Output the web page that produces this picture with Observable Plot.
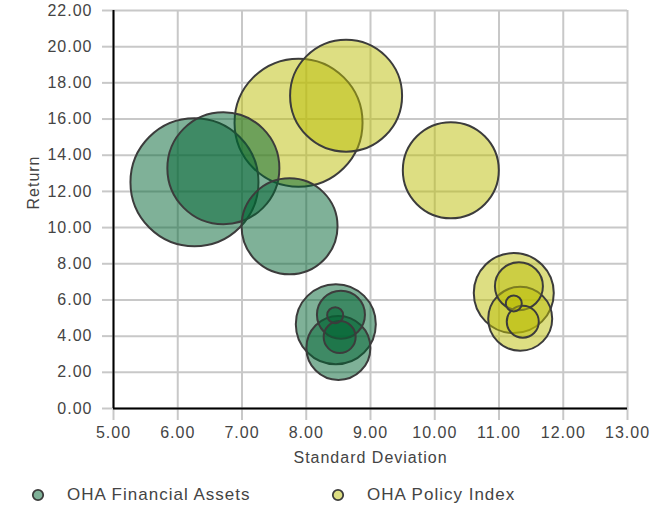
<!DOCTYPE html>
<html>
<head>
<meta charset="utf-8">
<script src="https://cdn.jsdelivr.net/npm/d3@7"></script>
<script src="https://cdn.jsdelivr.net/npm/@observablehq/plot@0.6"></script>
<style>
  html, body { margin: 0; padding: 0; background: #fff; }
  body { width: 672px; height: 507px; position: relative; overflow: hidden; font-family: "Liberation Sans", Arial, sans-serif; }
  #chart svg text { letter-spacing: 1px; }
  .legend { position: absolute; left: 0; top: 475px; width: 672px; height: 32px; color: #444; font-size: 17px; letter-spacing: 1px; }
  .legend .item { position: absolute; top: 0; height: 32px; }
  .legend svg { position: absolute; top: 13px; }
  .legend span { position: absolute; top: 10px; white-space: nowrap; }
</style>
</head>
<body>
<div id="chart"></div>
<div class="legend" id="legend"></div>
<script>
const seriesNames = ["OHA Financial Assets", "OHA Policy Index"];
const seriesColors = ["#006432", "#bbbe05"];

const finStdDev = [6.26, 6.71, 7.74, 8.46, 8.50, 8.54, 8.52, 8.45];
const finReturn = [12.51, 13.28, 10.07, 4.66, 3.35, 5.18, 3.95, 5.16];
const finSize   = [8, 7, 6, 5, 4, 3, 2, 1];

const polStdDev = [7.88, 8.62, 10.25, 11.23, 11.33, 11.31, 11.37, 11.23];
const polReturn = [15.80, 17.29, 13.17, 6.38, 4.96, 6.76, 4.80, 5.81];
const polSize   = [8, 7, 6, 5, 4, 3, 2, 1];

const xTicks = [5, 6, 7, 8, 9, 10, 11, 12, 13];
const yTicks = [0, 2, 4, 6, 8, 10, 12, 14, 16, 18, 20, 22];

const fin = finStdDev.map((x, i) => ({series: seriesNames[0], x, y: finReturn[i], s: finSize[i]}));
const pol = polStdDev.map((x, i) => ({series: seriesNames[1], x, y: polReturn[i], s: polSize[i]}));

const grid = "#c8c8c8";
const fmt = d => d.toFixed(2);

const chart = Plot.plot({
  width: 672,
  height: 475,
  marginLeft: 113,
  marginRight: 45,
  marginTop: 10,
  marginBottom: 67,
  style: {fontSize: "16px", fontFamily: "'Liberation Sans', Arial, sans-serif", color: "#444", background: "#fff"},
  x: {domain: [5, 13]},
  y: {domain: [0, 22]},
  r: {type: "linear", domain: [0, 8], range: [0, 64]},
  marks: [
    Plot.gridX(xTicks, {stroke: grid, strokeOpacity: 1, strokeWidth: 2}),
    Plot.gridY(yTicks, {stroke: grid, strokeOpacity: 1, strokeWidth: 2}),
    Plot.axisX(xTicks, {tickFormat: fmt, tickSize: 12, tickPadding: 6, stroke: grid, strokeWidth: 2, fill: "#444", label: null}),
    Plot.axisY(yTicks, {tickFormat: fmt, tickSize: 11, tickPadding: 10, stroke: grid, strokeWidth: 2, fill: "#444", label: null}),
    Plot.ruleX([5], {stroke: "#000", strokeWidth: 2}),
    Plot.ruleY([0], {stroke: "#000", strokeWidth: 2}),
    Plot.dot(pol, {x: "x", y: "y", r: "s", fill: seriesColors[1], fillOpacity: 0.5, stroke: "#3c3c3c", strokeWidth: 2}),
    Plot.dot(fin, {x: "x", y: "y", r: "s", fill: seriesColors[0], fillOpacity: 0.5, stroke: "#3c3c3c", strokeWidth: 2}),
    Plot.text(["Standard Deviation"], {frameAnchor: "bottom", dy: 49, lineAnchor: "middle", fill: "#444", fontSize: 16}),
    Plot.text(["Return"], {frameAnchor: "left", dx: -80, rotate: -90, fill: "#444", fontSize: 16})
  ]
});
document.getElementById("chart").appendChild(chart);

const legend = document.getElementById("legend");
const legendPos = [{m: 38, t: 67}, {m: 338, t: 367}];
seriesNames.forEach((name, i) => {
  const item = document.createElement("div");
  item.className = "item";
  item.style.left = "0px";
  item.innerHTML = `<svg width="14" height="14" style="left:${legendPos[i].m - 7}px"><circle cx="7" cy="7" r="5.2" fill="${seriesColors[i]}" fill-opacity="0.5" stroke="#3c3c3c" stroke-width="1.8"/></svg><span style="left:${legendPos[i].t}px">${name}</span>`;
  legend.appendChild(item);
});
</script>
</body>
</html>
